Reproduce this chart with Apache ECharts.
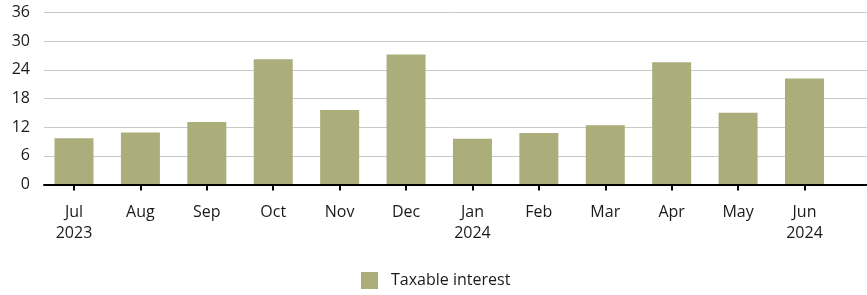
<!DOCTYPE html>
<html>
<head>
<meta charset="utf-8">
<script src="https://cdn.jsdelivr.net/npm/echarts@6/dist/echarts.min.js"></script>
<style>html,body{margin:0;padding:0;background:#fff}#c{width:867px;height:295px}</style>
</head>
<body>
<div id="c"></div>
<script>
const categories = ['Jul\n2023','Aug','Sep','Oct','Nov','Dec','Jan\n2024','Feb','Mar','Apr','May','Jun\n2024'];
const taxableInterest = [9.7, 10.9, 13.1, 26.2, 15.6, 27.2, 9.6, 10.8, 12.4, 25.6, 15.0, 22.2];
const yTicks = [0, 6, 12, 18, 24, 30, 36];
const seriesName = 'Taxable interest';

const FONT = '"Open Sans", "Noto Sans", sans-serif';
const TOP = 12.5, BOTTOM = 110.5;
const chart = echarts.init(document.getElementById('c'), null, {renderer: 'canvas'});
chart.setOption({
  animation: false,
  textStyle: {fontFamily: FONT},
  grid: [
    {left: 40.8, right: 29.3, top: TOP, bottom: BOTTOM, containLabel: false},
    {left: 44, right: 0, top: TOP, bottom: BOTTOM, containLabel: false}
  ],
  xAxis: [
    {
      type: 'category', gridIndex: 0, data: categories,
      axisLine: {show: false},
      axisTick: {show: true, alignWithLabel: true, length: 6, lineStyle: {color: '#000', width: 2}},
      axisLabel: {color: '#1a1a1a', fontSize: 16, fontFamily: FONT, margin: 17, lineHeight: 21, interval: 0},
      splitLine: {show: false}
    },
    {
      type: 'value', gridIndex: 1, min: 0, max: 1, z: 10,
      axisLine: {show: true, lineStyle: {color: '#000', width: 2}},
      axisTick: {show: false}, axisLabel: {show: false}, splitLine: {show: false}
    }
  ],
  yAxis: [
    {
      type: 'value', gridIndex: 0, min: 0, max: 36, interval: 6, show: false
    },
    {
      type: 'value', gridIndex: 1, min: 0, max: 36, interval: 6, z: 0,
      axisLine: {show: false}, axisTick: {show: false},
      axisLabel: {color: '#1a1a1a', fontSize: 16, fontFamily: FONT, margin: 14,
        formatter: v => yTicks.includes(v) ? String(v) : ''},
      splitLine: {show: true, lineStyle: {color: '#c8c8c8', width: 1}}
    }
  ],
  legend: {
    data: [seriesName], left: 356, top: 267, itemWidth: 17, itemHeight: 17, itemGap: 10,
    icon: 'rect',
    textStyle: {color: '#1a1a1a', fontSize: 16, fontFamily: FONT, padding: [0, 0, 0, 8]}
  },
  series: [{
    name: seriesName, type: 'bar', xAxisIndex: 0, yAxisIndex: 0,
    data: taxableInterest, barWidth: 39,
    itemStyle: {color: '#abad7a'}
  }]
});
</script>
</body>
</html>
